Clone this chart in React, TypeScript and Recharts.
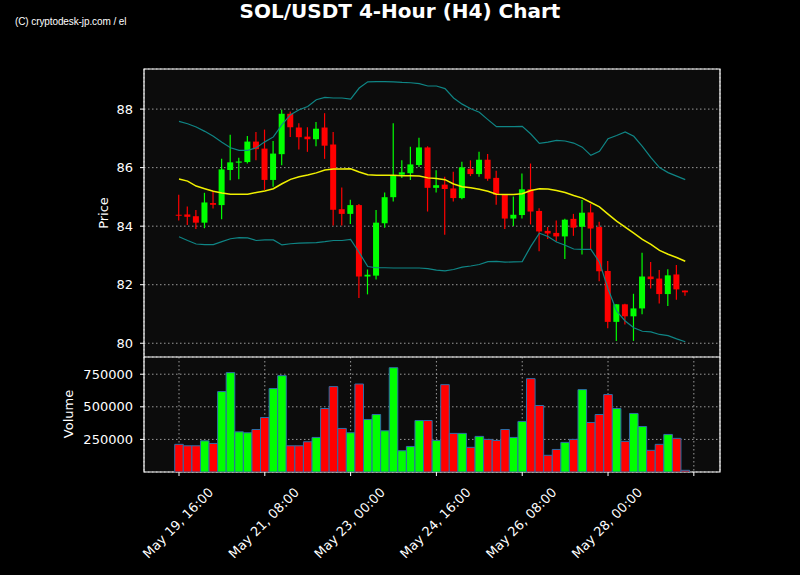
import React from 'react';
import {
  Bar,
  CartesianGrid,
  Cell,
  ComposedChart,
  Line,
  ReferenceArea,
  XAxis,
  YAxis,
} from 'recharts';

// 4h candles, index 0 = May 19 16:00
const OPEN = [
  84.39, 84.4, 84.34, 84.12, 84.79, 84.72, 85.92, 86.17, 86.19, 86.89,
  86.65, 85.58, 86.46, 87.84, 87.37, 87.06, 86.97, 87.37, 86.79, 84.58,
  84.42, 84.72, 82.28, 82.31, 84.1, 84.99, 85.76, 85.81, 86.09, 86.69,
  85.31, 85.42, 85.29, 84.96, 85.96, 85.78, 86.27, 85.65, 85.07, 84.26,
  84.38, 85.26, 84.52, 83.84, 83.77, 83.65, 84.25, 83.98, 84.47, 83.97,
  82.47, 80.73, 81.33, 80.92, 81.19, 82.28, 82.21, 81.68, 82.35, 81.8,
];
const HIGH = [
  85.07, 84.67, 84.55, 85.14, 85.2, 86.3, 87.12, 86.34, 87.08, 87.22,
  87.3, 86.91, 87.98, 87.92, 87.52, 87.38, 87.56, 87.86, 87.22, 85.32,
  84.9, 84.76, 82.52, 84.55, 85.15, 87.52, 86.25, 86.71, 87.02, 86.73,
  85.91, 85.69, 85.86, 86.2, 86.25, 86.54, 86.47, 85.89, 85.07, 85.01,
  85.8, 86.14, 84.61, 83.97, 84.19, 84.25, 84.42, 84.89, 84.76, 84.15,
  82.81, 81.33, 81.35, 81.69, 83.09, 82.78, 82.5, 82.53, 82.67, 81.8,
];
const LOW = [
  84.19, 84.04, 83.9, 83.93, 84.6, 84.24, 85.57, 85.6, 86.14, 86.25,
  85.24, 85.35, 86.08, 87.05, 86.62, 86.54, 86.73, 86.3, 84.02, 84.02,
  84.07, 81.55, 81.67, 82.18, 83.95, 84.84, 85.65, 85.58, 86.02, 84.5,
  85.15, 83.71, 84.84, 84.92, 85.71, 85.69, 85.55, 84.73, 83.9, 84.01,
  84.26, 84.06, 83.14, 83.56, 83.48, 82.88, 83.67, 83.03, 83.2, 82.12,
  80.51, 80.08, 80.64, 80.08, 80.99, 81.87, 81.36, 81.27, 81.49, 81.62,
];
const CLOSE = [
  84.36, 84.32, 84.12, 84.81, 84.73, 85.94, 86.18, 86.21, 86.89, 86.63,
  85.58, 86.48, 87.84, 87.38, 87.04, 86.97, 87.33, 86.75, 84.56, 84.42,
  84.72, 82.28, 82.34, 84.12, 84.99, 85.74, 85.84, 86.11, 86.69, 85.31,
  85.4, 85.27, 84.96, 86.01, 85.78, 86.27, 85.62, 85.07, 84.26, 84.39,
  85.26, 84.5, 83.82, 83.75, 83.65, 84.22, 83.95, 84.46, 83.92, 82.46,
  80.73, 81.33, 80.92, 81.19, 82.28, 82.19, 81.68, 82.32, 81.84, 81.74,
];
const VOLUME = [
  212000, 201000, 201000, 239000, 219000, 617000, 762000, 308000, 301000, 326000,
  418000, 640000, 739000, 201000, 201000, 232000, 265000, 487000, 655000, 334000,
  301000, 675000, 403000, 441000, 316000, 800000, 163000, 196000, 395000, 395000,
  242000, 670000, 296000, 296000, 189000, 273000, 250000, 242000, 326000, 265000,
  388000, 716000, 510000, 128000, 173000, 227000, 250000, 632000, 380000, 441000,
  594000, 487000, 235000, 449000, 349000, 166000, 212000, 288000, 258000, 13000,
];
const MA = [
  85.61, 85.54, 85.37, 85.28, 85.19, 85.13, 85.09, 85.09, 85.09, 85.15,
  85.2, 85.28, 85.45, 85.6, 85.69, 85.75, 85.82, 85.92, 85.95, 85.95,
  85.96, 85.85, 85.76, 85.74, 85.74, 85.74, 85.72, 85.72, 85.71, 85.65,
  85.63, 85.59, 85.44, 85.35, 85.31, 85.26, 85.19, 85.09, 85.08, 85.08,
  85.11, 85.22, 85.28, 85.27, 85.22, 85.15, 85.05, 84.96, 84.81, 84.66,
  84.41, 84.17, 83.97, 83.76, 83.55, 83.38, 83.17, 83.04, 82.93, 82.8,
];
const UPPER = [
  87.58, 87.5, 87.39, 87.24, 87.07, 86.87, 86.68, 86.59, 86.59, 86.68,
  86.88, 87.05, 87.47, 87.81, 87.98, 88.09, 88.32, 88.4, 88.38, 88.38,
  88.34, 88.72, 88.93, 88.94, 88.94, 88.93, 88.91, 88.9, 88.87, 88.79,
  88.79, 88.7, 88.38, 88.17, 88.01, 87.89, 87.64, 87.4, 87.4, 87.4,
  87.41, 87.15, 86.83, 86.87, 86.93, 86.91, 86.84, 86.7, 86.42, 86.56,
  86.99, 87.1, 87.22, 87.07, 86.73, 86.34, 86.0, 85.83, 85.71, 85.59,
];
const LOWER = [
  83.64, 83.51, 83.39, 83.37, 83.37, 83.47, 83.57, 83.61, 83.6, 83.51,
  83.53, 83.53, 83.36, 83.4, 83.42, 83.43, 83.44, 83.47, 83.51, 83.51,
  83.55, 83.1, 82.62, 82.58, 82.58, 82.57, 82.57, 82.57, 82.57, 82.55,
  82.5, 82.47, 82.52, 82.6, 82.64, 82.69, 82.79, 82.8, 82.77, 82.78,
  82.79, 83.31, 83.76, 83.65, 83.46, 83.35, 83.22, 83.21, 83.21, 82.77,
  81.86, 81.1, 80.76, 80.53, 80.41, 80.39, 80.3, 80.26, 80.15, 80.05,
];

const X_TICKS = [0, 10, 20, 30, 40, 50, 60];
const X_LABELS = [
  'May 19, 16:00',
  'May 21, 08:00',
  'May 23, 00:00',
  'May 24, 16:00',
  'May 26, 08:00',
  'May 28, 00:00',
  '',
];
const PRICE_TICKS = [80, 82, 84, 86, 88];
const VOL_TICKS = [250000, 500000, 750000];

const X_DOMAIN: [number, number] = [-4.08, 63.05];
const PRICE_DOMAIN: [number, number] = [79.53, 89.37];
const VOL_DOMAIN: [number, number] = [0, 882000];

const UP = '#00ff00';
const DOWN = '#ff0000';
const FONT = '"DejaVu Sans", sans-serif';
const GRID = '#9a9a9a';
const PANEL = '#0c0c0c';

const data = OPEN.map((o, i) => ({
  i,
  open: o,
  high: HIGH[i],
  low: LOW[i],
  close: CLOSE[i],
  volume: VOLUME[i],
  ma: MA[i],
  upper: UPPER[i],
  lower: LOWER[i],
}));

const Candle = (props: any) => {
  const { x, y, width, height, payload } = props;
  if (!payload || x == null) return null;
  const { open, close, high, low } = payload;
  const top = Math.min(y, y + height);
  const h = Math.abs(height);
  const span = high - low;
  const py = (v: number) => (span > 0 ? top + ((high - v) / span) * h : top);
  const color = close >= open ? UP : DOWN;
  const cx = x + width / 2;
  const bTop = py(Math.max(open, close));
  const bBot = py(Math.min(open, close));
  return (
    <g>
      <line x1={cx} x2={cx} y1={py(high)} y2={py(low)} stroke={color} strokeWidth={1.2} />
      <rect x={x} y={bTop} width={width} height={Math.max(bBot - bTop, 1)} fill={color} />
    </g>
  );
};

const DateTick = (props: any) => {
  const { x, y, payload } = props;
  const label = X_LABELS[X_TICKS.indexOf(payload.value)] ?? '';
  if (!label) return null;
  const cy = y + 45;
  return (
    <text
      x={x - 1}
      y={cy}
      transform={`rotate(-45, ${x - 1}, ${cy})`}
      textAnchor="middle"
      dominantBaseline="central"
      fill="#ffffff"
      fontSize={13}
      fontFamily={FONT}
    >
      {label}
    </text>
  );
};

const tickStyle = { fill: '#ffffff', fontSize: 13, fontFamily: FONT };

export default function App() {
  return (
    <div style={{ position: 'absolute', left: 0, top: 0, width: 800, height: 575, background: '#000' }}>
      <div style={{ position: 'absolute', left: 0, top: 0 }}>
        <ComposedChart width={800} height={360} data={data} margin={{ top: 69, right: 80, bottom: 3, left: 0 }}>
          <CartesianGrid fill={PANEL} stroke={GRID} strokeDasharray="1.5 2.5" />
          <XAxis
            dataKey="i"
            type="number"
            domain={X_DOMAIN}
            ticks={X_TICKS}
            allowDataOverflow
            height={0}
            tick={false}
            axisLine={false}
            tickLine={false}
          />
          <YAxis
            type="number"
            domain={PRICE_DOMAIN}
            ticks={PRICE_TICKS}
            allowDataOverflow
            width={144}
            tick={tickStyle}
            tickSize={4}
            tickMargin={7}
            axisLine={false}
            tickLine={{ stroke: '#ffffff' }}
          />
          <Bar
            dataKey={(d: any) => [d.low, d.high]}
            barSize={6}
            shape={Candle}
            isAnimationActive={false}
          />
          <Line dataKey="upper" type="linear" stroke="#0f8585" strokeWidth={1.2} dot={false} isAnimationActive={false} />
          <Line dataKey="lower" type="linear" stroke="#0f8585" strokeWidth={1.2} dot={false} isAnimationActive={false} />
          <Line dataKey="ma" type="linear" stroke="#f0f000" strokeWidth={1.5} dot={false} isAnimationActive={false} />
          <ReferenceArea
            x1={X_DOMAIN[0]}
            x2={X_DOMAIN[1]}
            y1={PRICE_DOMAIN[0]}
            y2={PRICE_DOMAIN[1]}
            fill="none"
            fillOpacity={0}
            stroke="#ffffff"
            strokeWidth={1.2}
            ifOverflow="visible"
          />
        </ComposedChart>
      </div>
      <div style={{ position: 'absolute', left: 0, top: 357 }}>
        <ComposedChart width={800} height={218} data={data} margin={{ top: 0, right: 80, bottom: 0, left: 0 }}>
          <CartesianGrid fill={PANEL} stroke={GRID} strokeDasharray="1.5 2.5" />
          <XAxis
            dataKey="i"
            type="number"
            domain={X_DOMAIN}
            ticks={X_TICKS}
            allowDataOverflow
            height={103}
            tick={<DateTick />}
            tickSize={4}
            axisLine={false}
            tickLine={{ stroke: '#ffffff' }}
            interval={0}
          />
          <YAxis
            type="number"
            domain={VOL_DOMAIN}
            ticks={VOL_TICKS}
            allowDataOverflow
            width={144}
            tick={tickStyle}
            tickSize={4}
            tickMargin={7}
            axisLine={false}
            tickLine={{ stroke: '#ffffff' }}
          />
          <Bar dataKey="volume" barSize={8.58} stroke="#2e6ea8" strokeWidth={1} isAnimationActive={false}>
            {data.map((d) => (
              <Cell key={d.i} fill={d.close >= d.open ? UP : DOWN} />
            ))}
          </Bar>
          <ReferenceArea
            x1={X_DOMAIN[0]}
            x2={X_DOMAIN[1]}
            y1={VOL_DOMAIN[0]}
            y2={VOL_DOMAIN[1]}
            fill="none"
            fillOpacity={0}
            stroke="#ffffff"
            strokeWidth={1.2}
            ifOverflow="visible"
          />
        </ComposedChart>
      </div>
      <svg width={800} height={575} style={{ position: 'absolute', left: 0, top: 0, pointerEvents: 'none' }}>
        <text x={400} y={18} textAnchor="middle" fill="#ffffff" fontSize={20} fontWeight="bold" fontFamily={FONT}>
          SOL/USDT 4-Hour (H4) Chart
        </text>
        <text x={15} y={25} fill="#ffffff" fontSize={10} letterSpacing={-0.1} fontFamily='"Liberation Sans", Arial, sans-serif'>
          (C) cryptodesk-jp.com / el
        </text>
        <text
          x={103}
          y={213}
          transform="rotate(-90, 103, 213)"
          textAnchor="middle"
          dominantBaseline="central"
          fill="#ffffff"
          fontSize={13}
          fontFamily={FONT}
        >
          Price
        </text>
        <text
          x={68}
          y={414}
          transform="rotate(-90, 68, 414)"
          textAnchor="middle"
          dominantBaseline="central"
          fill="#ffffff"
          fontSize={13}
          fontFamily={FONT}
        >
          Volume
        </text>
      </svg>
    </div>
  );
}
